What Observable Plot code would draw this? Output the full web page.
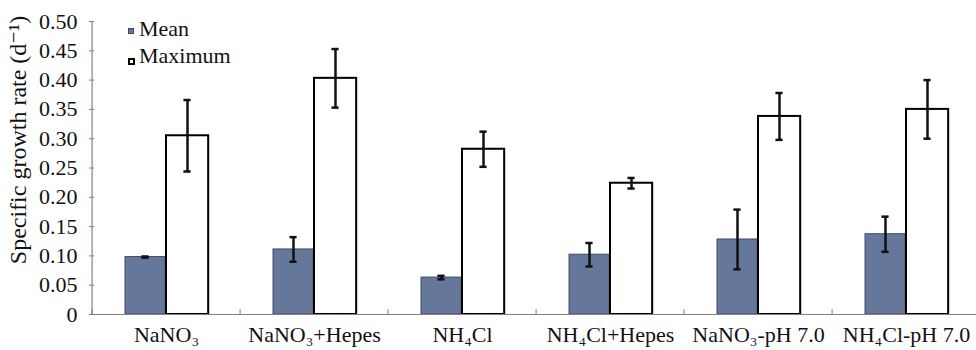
<!DOCTYPE html>
<html>
<head>
<meta charset="utf-8">
<script src="https://cdn.jsdelivr.net/npm/d3@7"></script>
<script src="https://cdn.jsdelivr.net/npm/@observablehq/plot@0.6"></script>
<style>
  body { margin: 0; background: #fff; }
  #wrap { position: relative; width: 976px; height: 350px; overflow: hidden; font-family: "Liberation Serif", "DejaVu Serif", serif; }
  .legtxt { position: absolute; left: 139px; font-size: 22px; line-height: 22px; color: #111; white-space: nowrap; }
  .sw { position: absolute; left: 128px; width: 6px; height: 6px; box-sizing: border-box; }
  #ylab { position: absolute; left: 18px; top: 140px; transform: translate(-50%, -50%) rotate(-90deg); white-space: nowrap; font-size: 24px; line-height: 24px; color: #111; }
</style>
</head>
<body>
<div id="wrap">
  <div id="chart"></div>
  <span class="sw" style="top:28px;background:#66779c;border:1px solid #3d4a6a"></span>
  <div class="legtxt" style="top:18px">Mean</div>
  <span class="sw" style="top:58px;width:7px;height:7px;background:#fff;border:2px solid #000"></span>
  <div class="legtxt" style="top:45px">Maximum</div>
  <div id="ylab">Specific growth rate (d⁻¹)</div>
</div>
<script>
const categories = ["NaNO3", "NaNO3+Hepes", "NH4Cl", "NH4Cl+Hepes", "NaNO3-pH 7.0", "NH4Cl-pH 7.0"];
const tickLabels = ["NaNO₃", "NaNO₃+Hepes", "NH₄Cl", "NH₄Cl+Hepes", "NaNO₃-pH 7.0", "NH₄Cl-pH 7.0"];
const meanValues = [0.098, 0.111, 0.063, 0.102, 0.128, 0.137];
const meanErr    = [0.001, 0.021, 0.003, 0.020, 0.051, 0.030];
const maxValues  = [0.305, 0.403, 0.282, 0.224, 0.338, 0.350];
const maxErr     = [0.061, 0.050, 0.030, 0.009, 0.040, 0.050];
const yTicks = [0, 0.05, 0.10, 0.15, 0.20, 0.25, 0.30, 0.35, 0.40, 0.45, 0.50];

const meanData = categories.map((c, i) => ({cat: c, v: meanValues[i], lo: meanValues[i] - meanErr[i], hi: meanValues[i] + meanErr[i]}));
const maxData = categories.map((c, i) => ({cat: c, v: maxValues[i], lo: maxValues[i] - maxErr[i], hi: maxValues[i] + maxErr[i]}));
const labelOf = new Map(categories.map((c, i) => [c, tickLabels[i]]));

const W = 976, ML = 89, MR = -6;
const bw = (W - ML - MR) / categories.length;
const half = bw / 2;
const axisColor = "#8a7f80";

const chart = Plot.plot({
  width: W,
  height: 350,
  marginLeft: ML,
  marginRight: MR,
  marginTop: 21,
  marginBottom: 36,
  style: {fontFamily: "'Liberation Serif', 'DejaVu Serif', serif", fontSize: "22px", color: "#111", overflow: "visible"},
  x: {domain: categories, padding: 0, axis: null},
  y: {domain: [0, 0.5], axis: null},
  marks: [
    // mean bars
    Plot.barY(meanData, {x: "cat", y: "v", fill: "#66779c", stroke: "#3d4a6a", strokeWidth: 1, insetLeft: 33, insetRight: bw - 74}),
    // maximum bars
    Plot.barY(maxData, {x: "cat", y: "v", fill: "#fff", stroke: "#000", strokeWidth: 2, insetLeft: 74, insetRight: bw - 117}),
    // error bars
    Plot.ruleX(meanData, {x: "cat", y1: "lo", y2: "hi", dx: -21, stroke: "#111", strokeWidth: 2.5}),
    Plot.tickY(meanData, {x: "cat", y: "hi", dx: -21, insetLeft: half - 4, insetRight: half - 4, stroke: "#111", strokeWidth: 2.5}),
    Plot.tickY(meanData, {x: "cat", y: "lo", dx: -21, insetLeft: half - 4, insetRight: half - 4, stroke: "#111", strokeWidth: 2.5}),
    Plot.ruleX(maxData, {x: "cat", y1: "lo", y2: "hi", dx: 21, stroke: "#111", strokeWidth: 2.5}),
    Plot.tickY(maxData, {x: "cat", y: "hi", dx: 21, insetLeft: half - 4, insetRight: half - 4, stroke: "#111", strokeWidth: 2.5}),
    Plot.tickY(maxData, {x: "cat", y: "lo", dx: 21, insetLeft: half - 4, insetRight: half - 4, stroke: "#111", strokeWidth: 2.5}),
    // axes lines
    Plot.ruleY([0], {stroke: axisColor, strokeWidth: 1.2}),
    Plot.ruleX([categories[0]], {dx: -half, y1: 0, y2: 0.5, stroke: axisColor, strokeWidth: 1.2}),
    // category boundary ticks (upward)
    Plot.axisX({anchor: "bottom", tickSize: -5, text: null, label: null, dx: -half, stroke: axisColor}),
    // category labels
    Plot.axisX({anchor: "bottom", tickSize: 0, tickPadding: 12, label: null, tickFormat: d => labelOf.get(d), fontSize: 22, fill: "#111"}),
    // y axis
    Plot.axisY({anchor: "left", ticks: yTicks, tickSize: -5, tickPadding: 17, label: null, stroke: axisColor, fontSize: 22, fill: "#111",
      tickFormat: d => d === 0 ? "0" : d.toFixed(2)})
  ]
});
document.getElementById("chart").appendChild(chart);
</script>
</body>
</html>
